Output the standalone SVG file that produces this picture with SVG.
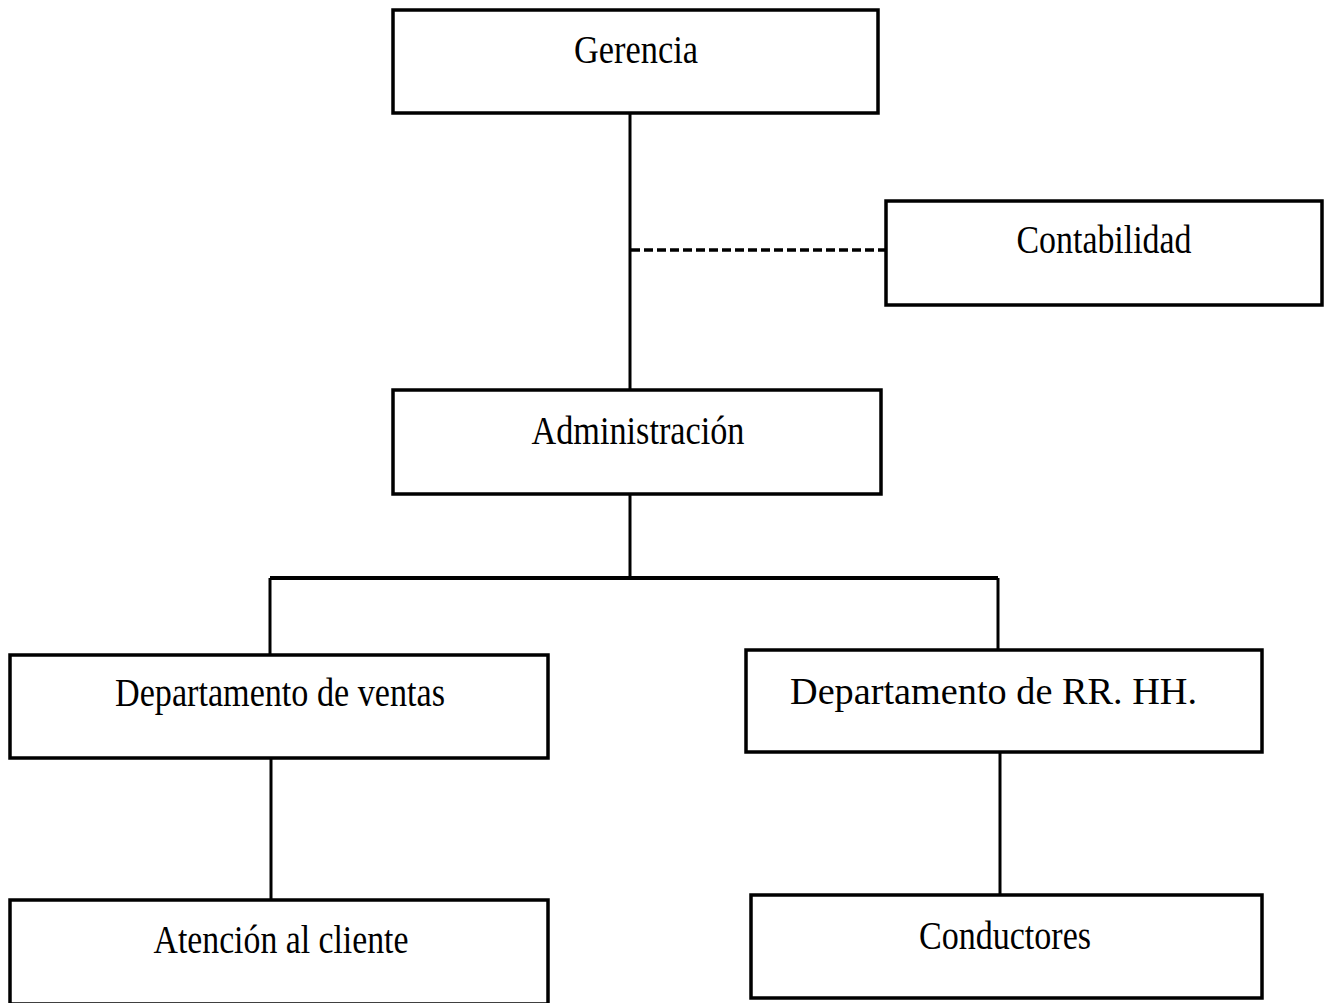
<svg xmlns="http://www.w3.org/2000/svg" width="1329" height="1003" viewBox="0 0 1329 1003">
<style>
.box{fill:#fff;stroke:#000;stroke-width:3.5}
.lbl{font-family:"Liberation Serif","Times New Roman",serif;font-size:41px;fill:#000;text-anchor:middle}
.n{font-family:"Liberation Serif","Times New Roman",serif;font-size:38px;fill:#000}
.ln{stroke:#000;stroke-width:3;fill:none}
.dash{stroke:#000;stroke-width:3.5;stroke-dasharray:9 4;fill:none}
</style>
<rect width="1329" height="1003" fill="#fff"/>
<g id="connectors">
<line class="ln" x1="630" y1="113" x2="630" y2="390"/>
<line class="dash" x1="631" y1="250" x2="886" y2="250"/>
<line class="ln" x1="630" y1="494" x2="630" y2="578"/>
<line class="ln" x1="270" y1="578" x2="998" y2="578" style="stroke-width:4"/>
<line class="ln" x1="270" y1="578" x2="270" y2="655"/>
<line class="ln" x1="998" y1="578" x2="998" y2="650"/>
<line class="ln" x1="271" y1="758" x2="271" y2="900"/>
<line class="ln" x1="1000" y1="752" x2="1000" y2="895"/>
</g>
<g id="gerencia">
<rect class="box" x="393" y="10" width="485" height="103"/>
<text class="lbl" x="636" y="63" textLength="124" lengthAdjust="spacingAndGlyphs">Gerencia</text>
</g>
<g id="contabilidad">
<rect class="box" x="886" y="201" width="436" height="104"/>
<text class="lbl" x="1104" y="253" textLength="175" lengthAdjust="spacingAndGlyphs">Contabilidad</text>
</g>
<g id="administracion">
<rect class="box" x="393" y="390" width="488" height="104"/>
<text class="lbl" x="638" y="444" textLength="213" lengthAdjust="spacingAndGlyphs">Administración</text>
</g>
<g id="ventas">
<rect class="box" x="10" y="655" width="538" height="103"/>
<text class="lbl" x="280" y="706" textLength="330" lengthAdjust="spacingAndGlyphs">Departamento de ventas</text>
</g>
<g id="rrhh">
<rect class="box" x="746" y="650" width="516" height="102"/>
<text class="n" x="790" y="704" textLength="407" lengthAdjust="spacingAndGlyphs">Departamento de RR. HH.</text>
</g>
<g id="atencion">
<rect class="box" x="10" y="900" width="538" height="104"/>
<text class="lbl" x="281" y="953" textLength="255" lengthAdjust="spacingAndGlyphs">Atención al cliente</text>
</g>
<g id="conductores">
<rect class="box" x="751" y="895" width="511" height="103"/>
<text class="lbl" x="1005" y="949" textLength="172" lengthAdjust="spacingAndGlyphs">Conductores</text>
</g>
</svg>
